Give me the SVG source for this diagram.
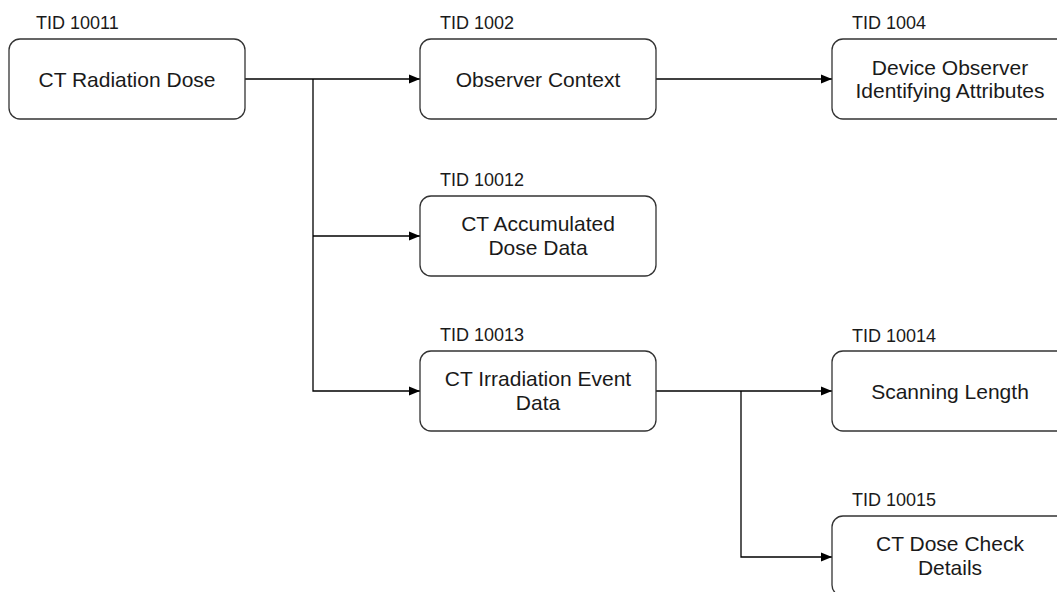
<svg xmlns="http://www.w3.org/2000/svg" width="1057" height="592" viewBox="0 0 1057 592">
<defs>
<style>
.box{fill:#fff;stroke:#333;stroke-width:1.3}
.t{font-family:"Liberation Sans",Arial,sans-serif;font-size:21px;fill:#1a1a1a;text-anchor:middle}
.lbl{font-family:"Liberation Sans",Arial,sans-serif;font-size:18px;fill:#1a1a1a}
.c{fill:none;stroke:#000;stroke-width:1.3}
</style>
<marker id="arr" markerWidth="11" markerHeight="11" refX="11" refY="5.5" orient="auto" markerUnits="userSpaceOnUse">
<path d="M0,1 L11,5.5 L0,10 Z" fill="#000"/>
</marker>
</defs>
<rect width="1057" height="592" fill="#fff"/>
<g id="connectors">
<path class="c" d="M245,79 H420" marker-end="url(#arr)"/>
<path class="c" d="M313,79 V391 H420" marker-end="url(#arr)"/>
<path class="c" d="M313,236 H420" marker-end="url(#arr)"/>
<path class="c" d="M656,79 H832" marker-end="url(#arr)"/>
<path class="c" d="M656,391 H832" marker-end="url(#arr)"/>
<path class="c" d="M741,391 V557 H832" marker-end="url(#arr)"/>
</g>
<g id="n10011">
<text class="lbl" x="36" y="29">TID 10011</text>
<rect class="box" x="9" y="39" width="236" height="80" rx="11"/>
<text class="t" x="127" y="86.5">CT Radiation Dose</text>
</g>
<g id="n1002">
<text class="lbl" x="440" y="29">TID 1002</text>
<rect class="box" x="420" y="39" width="236" height="80" rx="11"/>
<text class="t" x="538" y="86.5">Observer Context</text>
</g>
<g id="n1004">
<text class="lbl" x="852" y="29">TID 1004</text>
<rect class="box" x="832" y="39" width="236" height="80" rx="11"/>
<text class="t" x="950" y="75">Device Observer</text>
<text class="t" x="950" y="98">Identifying Attributes</text>
</g>
<g id="n10012">
<text class="lbl" x="440" y="186">TID 10012</text>
<rect class="box" x="420" y="196" width="236" height="80" rx="11"/>
<text class="t" x="538" y="231">CT Accumulated</text>
<text class="t" x="538" y="255">Dose Data</text>
</g>
<g id="n10013">
<text class="lbl" x="440" y="341">TID 10013</text>
<rect class="box" x="420" y="351" width="236" height="80" rx="11"/>
<text class="t" x="538" y="386">CT Irradiation Event</text>
<text class="t" x="538" y="410">Data</text>
</g>
<g id="n10014">
<text class="lbl" x="852" y="342">TID 10014</text>
<rect class="box" x="832" y="351" width="236" height="80" rx="11"/>
<text class="t" x="950" y="398.5">Scanning Length</text>
</g>
<g id="n10015">
<text class="lbl" x="852" y="506">TID 10015</text>
<rect class="box" x="832" y="516" width="236" height="80" rx="11"/>
<text class="t" x="950" y="551">CT Dose Check</text>
<text class="t" x="950" y="575">Details</text>
</g>
</svg>
